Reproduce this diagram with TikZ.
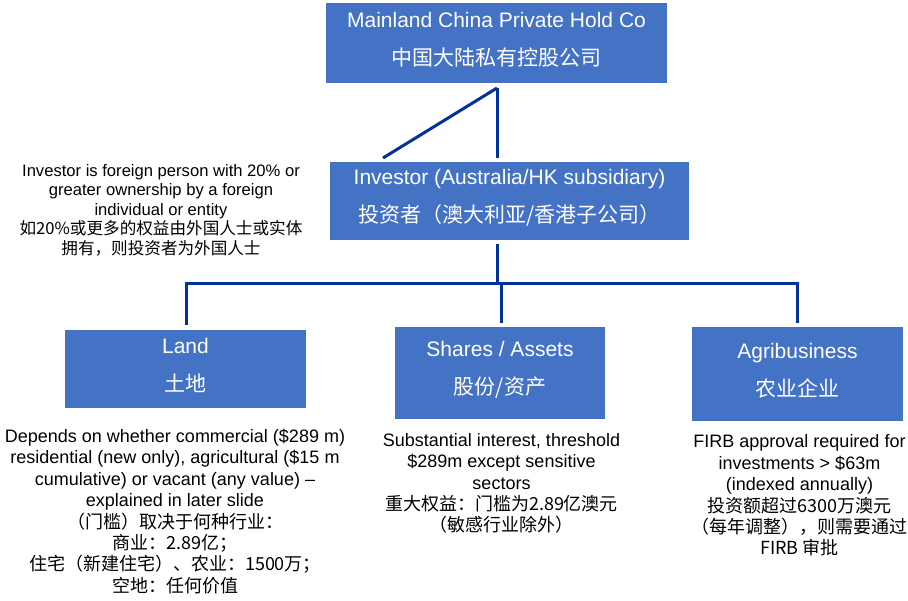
\documentclass[tikz,border=0pt]{standalone}
\usepackage{fontspec}
\setmainfont{Liberation Sans}
\newfontfamily\cjk{Noto Sans CJK SC}
\definecolor{boxblue}{RGB}{68,114,196}
\definecolor{linkblue}{RGB}{0,51,153}
\begin{document}
\begin{tikzpicture}[x=1pt,y=-1pt,
  box/.style={fill=boxblue,draw=none,inner sep=0pt},
  boxtext/.style={text=white,align=center,inner sep=0pt,font=\fontsize{21}{38}\selectfont},
  note/.style={text=black,align=center,inner sep=0pt,font=\fontsize{16.6}{19.5}\selectfont},
  desc/.style={text=black,align=center,inner sep=0pt,font=\fontsize{18}{21.4}\selectfont},
  link/.style={draw=linkblue,line width=3pt}]
\fill[white] (0,0) rectangle (908,601);
\useasboundingbox (0,0) rectangle (908,601);

% boxes
\node[box,minimum width=341pt,minimum height=80pt] (top) at (496.5,43) {};
\node[box,minimum width=359pt,minimum height=78pt] (inv) at (509.5,201) {};
\node[box,minimum width=241pt,minimum height=78pt] (land) at (185.5,369) {};
\node[box,minimum width=210pt,minimum height=92pt] (shares) at (500,373) {};
\node[box,minimum width=211pt,minimum height=94pt] (agri) at (797.5,374) {};

% box texts
\node[boxtext] (topT) at ([yshift=3pt]top.center) {Mainland China Private Hold Co\\{\cjk 中国大陆私有控股公司}};
\node[boxtext] (invT) at ([yshift=3pt]inv.center) {Investor (Australia/HK subsidiary)\\{\cjk 投资者（澳大利亚/香港子公司）}};
\node[boxtext] (landT) at ([yshift=3.5pt]land.center) {Land\\{\cjk 土地}};
\node[boxtext] (sharesT) at ([yshift=3.5pt]shares.center) {Shares / Assets\\{\cjk 股份/资产}};
\node[boxtext] (agriT) at ([yshift=3.5pt]agri.center) {Agribusiness\\{\cjk 农业企业}};

% connector points
\coordinate (c1) at (497,88);
\coordinate (c2) at (497,158);
\coordinate (c3) at (383,158);
\coordinate (d1) at (497,244);
\coordinate (d2) at (497,284);
\coordinate (hl) at (186,284);
\coordinate (hr) at (797,284);
\coordinate (hs) at (501,284);
\coordinate (lt) at (186,325);
\coordinate (st) at (501,323);
\coordinate (at) at (797,323);

\draw[link] (c1) -- (c2);
\draw[link] (c1) -- (c3);
\draw[link] (d1) -- (d2);
\draw[link] (lt) -- (hl) -- (hr) -- (at);
\draw[link] (hs) -- (st);

% notes
\node[note] (noteT) at (161,210) {Investor is foreign person with 20\% or\\greater ownership by a foreign\\individual or entity\\{\cjk 如20\%或更多的权益由外国人士或实体}\\{\cjk 拥有，则投资者为外国人士}};

\node[desc] (landD) at (175,511.5) {Depends on whether commercial (\$289 m)\\residential (new only), agricultural (\$15 m\\cumulative) or vacant (any value) –\\explained in later slide\\{\cjk （门槛）取决于何种行业：}\\{\cjk 商业：2.89亿；}\\{\cjk 住宅（新建住宅）、农业：1500万；}\\{\cjk 空地：任何价值}};

\node[desc] (sharesD) at (501.5,483.5) {Substantial interest, threshold\\\$289m except sensitive\\sectors\\{\cjk 重大权益：门槛为2.89亿澳元}\\{\cjk （敏感行业除外）}};

\node[desc] (agriD) at (799.5,495.5) {FIRB approval required for\\investments > \$63m\\(indexed annually)\\{\cjk 投资额超过6300万澳元}\\{\cjk （每年调整），则需要通过}\\{\cjk FIRB 审批}};
\end{tikzpicture}
\end{document}
